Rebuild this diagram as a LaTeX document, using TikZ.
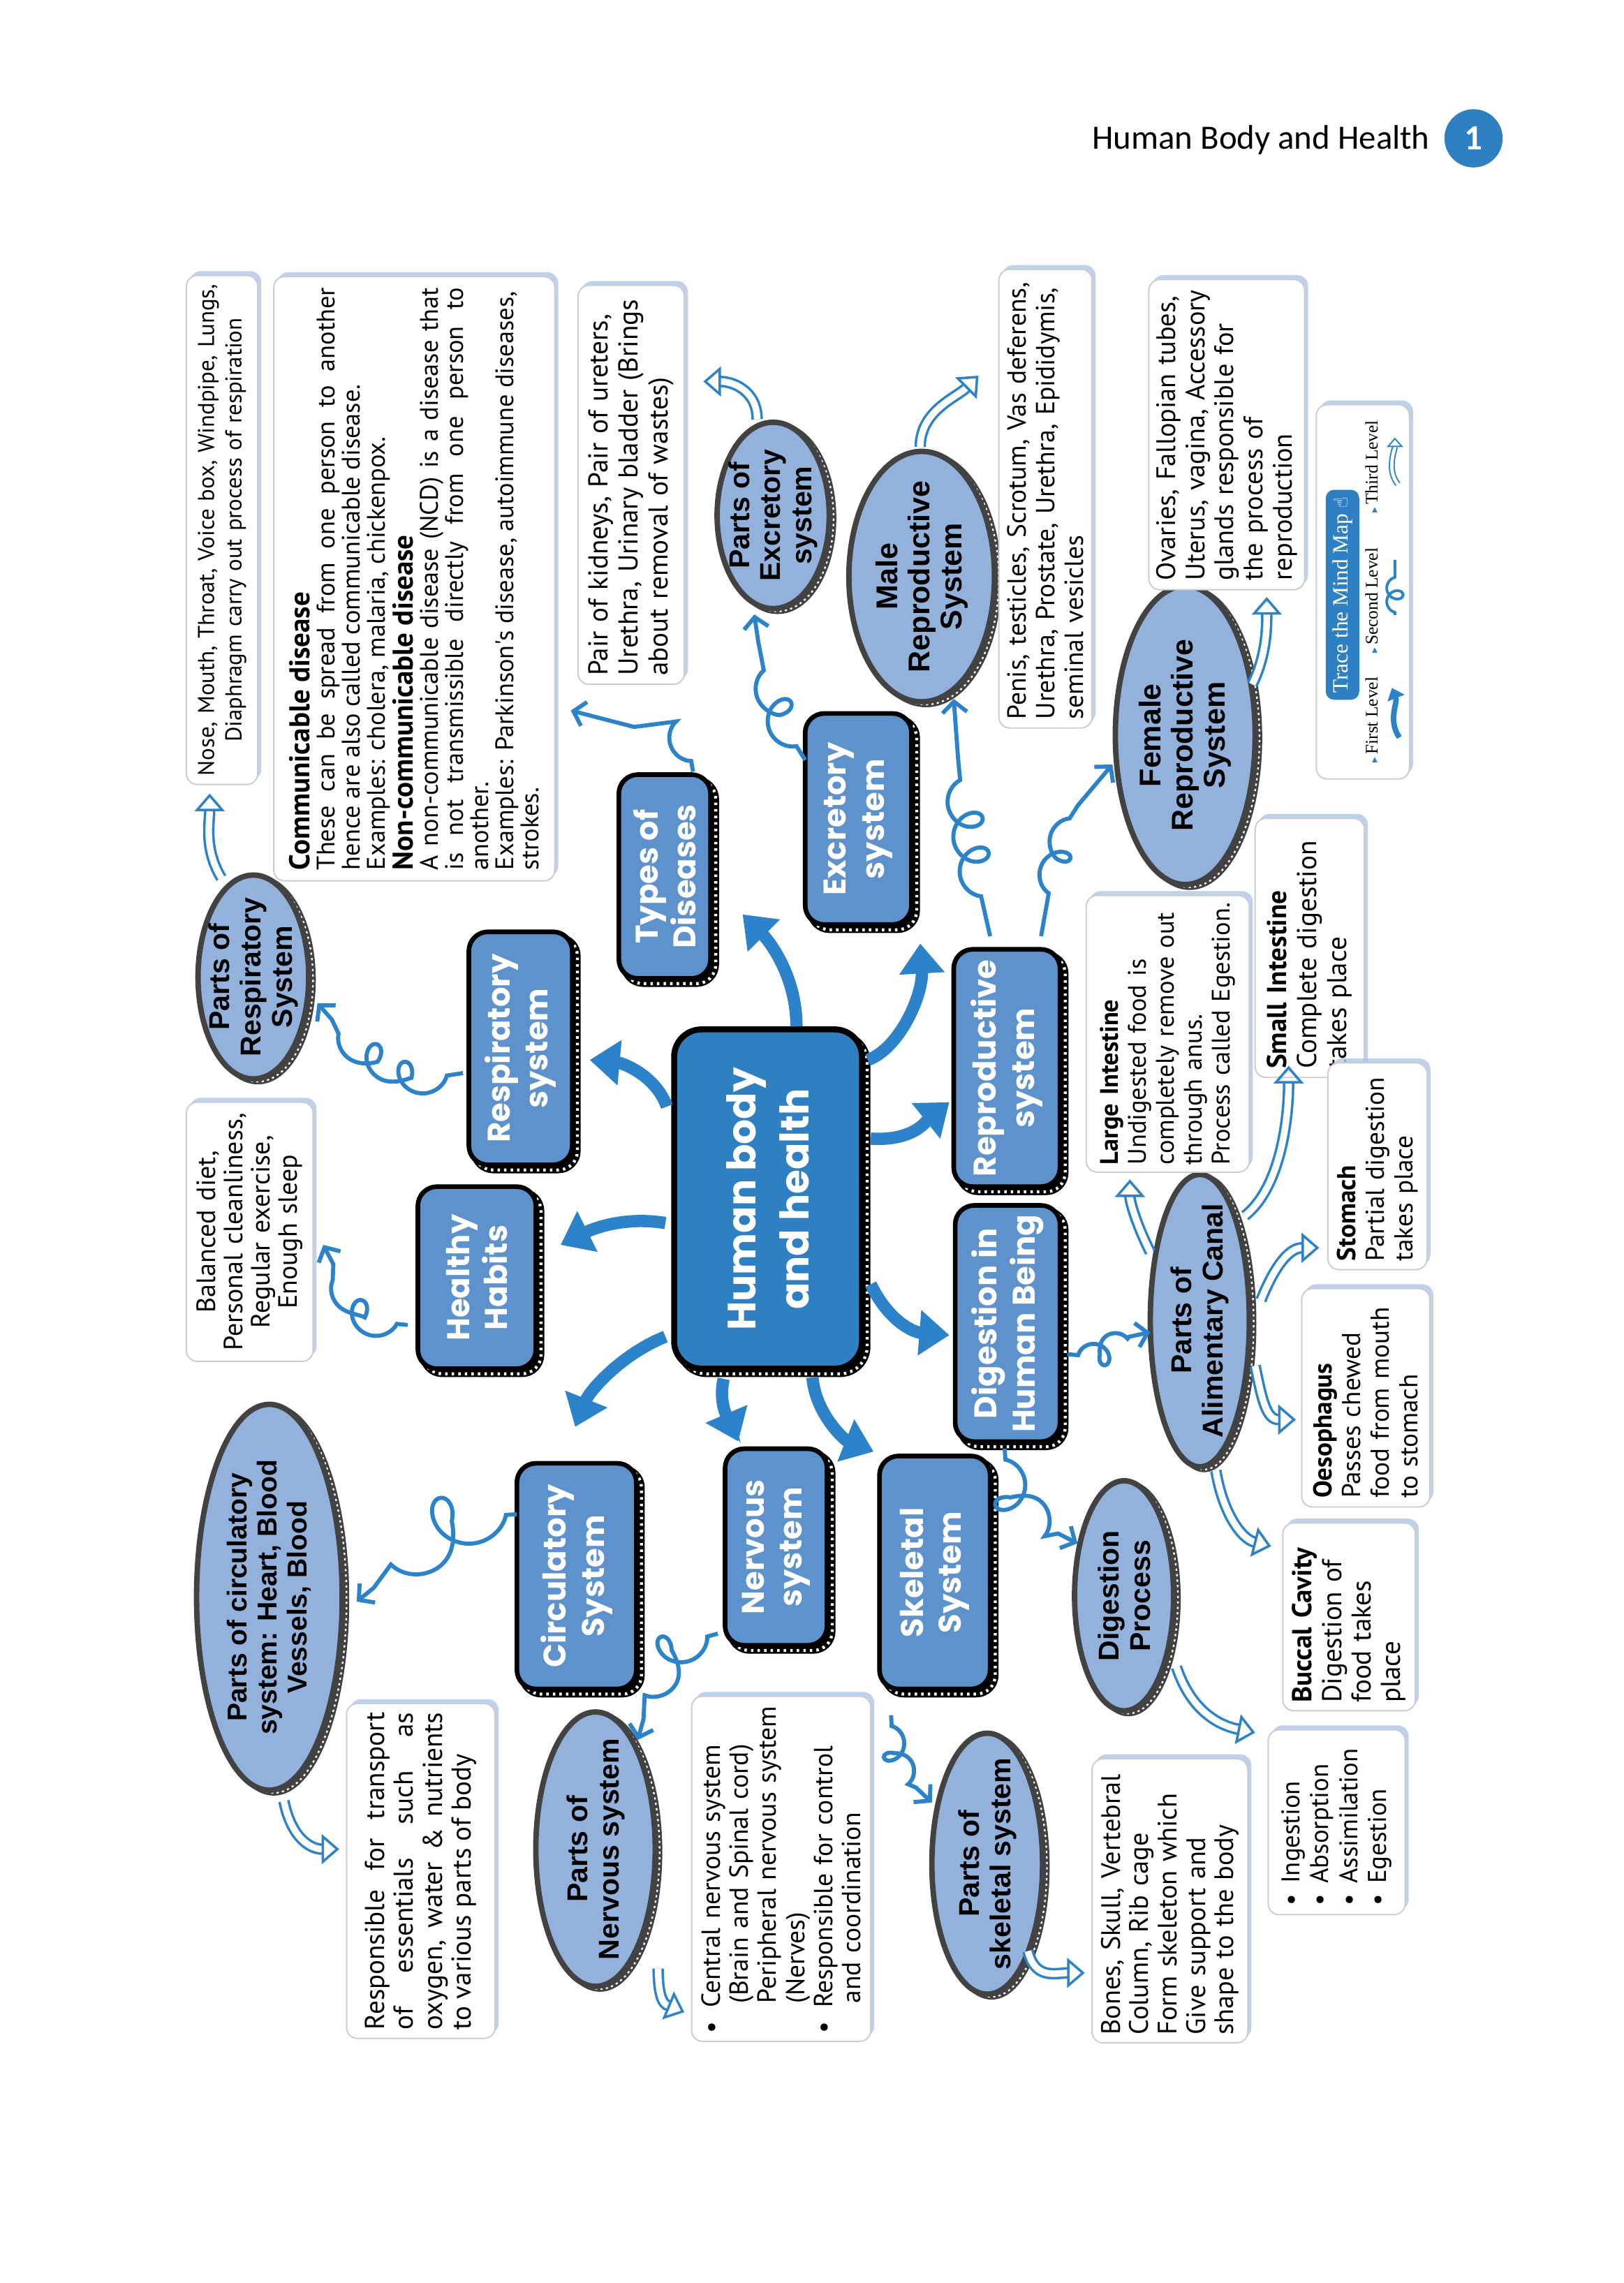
\documentclass[tikz,border=0pt]{standalone}
\usepackage{fontspec}
\setmainfont{PT Sans}
\newfontfamily\handf{PT Sans}
\newfontfamily\popf{Poppins}
\newfontfamily\arialf{Liberation Sans}
\newfontfamily\serff{Liberation Serif}
\newfontfamily\calf{Carlito}
\newfontfamily\djf{DejaVu Sans}
\usetikzlibrary{shapes.geometric,arrows.meta,decorations.pathmorphing,calc,shadows}
\definecolor{hubblue}{RGB}{46,128,194}
\definecolor{nodeblue}{RGB}{93,146,204}
\definecolor{ellblue}{RGB}{147,178,219}
\definecolor{ellgray}{RGB}{66,66,66}
\definecolor{arrowblue}{RGB}{44,131,201}
\definecolor{shadowblue}{RGB}{175,198,232}
\definecolor{boxgray}{RGB}{205,205,205}
\newcommand\fs[2]{\fontsize{#1}{#2}\selectfont}
\tikzset{
  sz/.style 2 args={minimum width=#1*0.5338pt, minimum height=#2*0.5338pt},
  tw/.style={text width=#1*0.5338pt},
  band/.style={
    general shadow={shadow xshift=1.9pt, shadow yshift=-1.9pt, draw=black, fill=black, line width=2.4pt},
    general shadow={shadow xshift=1.9pt, shadow yshift=-1.9pt, draw=white, line width=1.1pt, dash pattern=on 0.9pt off 1.5pt}},
  eband/.style={
    general shadow={shadow xshift=1.6pt, shadow yshift=-1.0pt, draw=ellgray, fill=ellgray, line width=2pt},
    general shadow={shadow xshift=1.6pt, shadow yshift=-1.0pt, draw=white, line width=0.6pt, dash pattern=on 0.8pt off 1.2pt}},
  hubnode/.style={rotate=90, rounded corners=10pt, fill=hubblue, draw=black, line width=2.2pt,
    text=white, font=\popf\bfseries\fs{14.5}{19.5}, align=center, band},
  sysnode/.style={rotate=90, rounded corners=7pt, fill=nodeblue, draw=black, line width=1.7pt,
    text=white, font=\popf\bfseries\fs{11.5}{14}, align=center, band},
  partnode/.style={ellipse, rotate=90, fill=ellblue, draw=ellgray, line width=2pt, inner sep=-5pt,
    font=\arialf\bfseries\fs{10.5}{11.5}, align=center, eband},
  tbox/.style={rotate=90, draw=boxgray, line width=0.5pt, fill=white, rounded corners=4pt,
    font=\handf\fs{9}{10.2}, inner sep=2.5pt,
    drop shadow={shadow xshift=1.3pt, shadow yshift=1.6pt, fill=shadowblue, opacity=0.8}},
  big/.style={draw=arrowblue, line width=4.5pt, -{Triangle[length=11pt,width=16pt]}},
  sq/.style={draw=arrowblue, line width=1.5pt, decorate,
    decoration={coil, aspect=0.9, segment length=13pt, amplitude=6pt, pre length=4pt, post length=8pt},
    -{Straight Barb[length=4pt,width=9pt]}},
  dbl/.style={draw=arrowblue, line width=0.9pt, double=white, double distance=2.4pt,
    -{Triangle[open, length=6.5pt, width=11pt]}},
}
\begin{document}
\begin{tikzpicture}[x=0.5338pt, y=-0.5338pt]
\useasboundingbox (0,0) rectangle (1115,1568);

% header
\node[font=\calf\fs{12.5}{14}] (title) at (866,96) {Human Body and Health};
\node[circle, fill=hubblue, minimum size=40*0.5338pt, inner sep=0pt, text=white,
  font=\calf\bfseries\fs{13}{14}] (pgnum) at (1012,95) {1};

% central and first level
\node[hubnode, sz={233}{129}] (hub) at (527.5,823.5) {Human body\\and health};
\node[sysnode, sz={160}{71}] (resp) at (357.5,720) {Respiratory\\system};
\node[sysnode, sz={140}{63}] (types) at (456.5,602) {Types of\\Diseases};
\node[sysnode, sz={145}{73}] (exc) at (589.5,562.5) {Excretory\\system};
\node[sysnode, sz={163}{73}] (rep) at (691.5,733.5) {Reproductive\\system};
\node[sysnode, sz={162}{72}] (dig) at (692,909) {Digestion in\\Human Being};
\node[sysnode, sz={125}{81}] (hab) at (327.5,877.5) {Healthy\\Habits};
\node[sysnode, sz={155}{82}] (circ) at (396,1082.5) {Circulatory\\System};
\node[sysnode, sz={135}{70}] (nerv) at (533,1062.5) {Nervous\\system};
\node[sysnode, sz={160}{76}] (skel) at (642,1080) {Skeletal\\System};

% second level ellipses
\node[partnode, sz={140}{76}] (presp) at (174,671) {Parts of\\Respiratory\\System};
\node[partnode, sz={128}{77}] (pexc) at (531,354) {Parts of\\Excretory\\system};
\node[partnode, sz={172}{100}, font=\arialf\bfseries\fs{11}{11.8}] (male) at (633,396) {Male\\Reproductive\\System};
\node[partnode, sz={205}{96}, font=\arialf\bfseries\fs{11}{11.8}] (fem) at (814,505) {Female\\Reproductive\\System};
\node[partnode, sz={191}{68}] (alim) at (824,907) {Parts of\\Alimentary Canal};
\node[partnode, sz={158}{68}] (dproc) at (772,1096) {Digestion\\Process};
\node[partnode, sz={265}{100}, font=\arialf\bfseries\fs{10}{11}] (pcirc) at (185,1097) {Parts of circulatory\\system: Heart, Blood\\Vessels, Blood};
\node[partnode, sz={184}{82}] (pnerv) at (409,1270) {Parts of\\Nervous system};
\node[partnode, sz={160}{76}] (pskel) at (678,1280) {Parts of\\skeletal system};

% text boxes
\node[tbox, sz={348}{49}, tw=344, align=center, font=\handf\fs{8.4}{10}, inner sep=1.5pt] (nose) at (152.5,364)
  {Nose, Mouth, Throat, Voice box, Windpipe, Lungs,\\Diaphragm carry out process of respiration};
\node[tbox, sz={415}{193}, tw=400, align=justify, font=\handf\fs{9.3}{9.2}, inner sep=1.5pt] (dis) at (284.5,397.5)
  {{\bfseries\fs{10.5}{9.2}Communicable disease}\par
   These can be spread from one person to another\linebreak
   hence are also called communicable disease.\par
   Examples: cholera, malaria, chickenpox.\par
   {\bfseries\fs{10.5}{9.2}Non-communicable disease}\par
   A non-communicable disease (NCD) is a disease that\linebreak
   is not transmissible directly from one person to\linebreak
   another.\par
   Examples: Parkinson's disease, autoimmune diseases,\par
   strokes.};
\node[tbox, sz={274}{73}, tw=262, align=left, font=\handf\fs{10}{11}] (excb) at (433.5,333)
  {Pair of kidneys, Pair of ureters,\\Urethra, Urinary bladder (Brings\\about removal of wastes)};
\node[tbox, sz={315}{64}, tw=303, align=left, font=\handf\fs{9.6}{10.4}] (maleb) at (718,342.5)
  {Penis, testicles, Scrotum, Vas deferens,\\Urethra, Prostate, Urethra, Epididymis,\\seminal vesicles};
\node[tbox, sz={213}{107}, tw=200, align=left, font=\handf\fs{9.8}{10.7}] (femb) at (842.5,298.5)
  {Ovaries, Fallopian tubes,\\Uterus, vagina, Accessory\\glands responsible for\\the process of\\reproduction};
\node[tbox, sz={178}{87}, tw=168, align=center, font=\handf\fs{9.7}{10}] (habb) at (171.5,846)
  {Balanced diet,\\Personal cleanliness,\\Regular exercise,\\Enough sleep};
\node[tbox, sz={190}{112}, tw=180, align=left, font=\handf\fs{9.3}{10.2}] (large) at (802,710)
  {\textbf{Large Intestine}\\Undigested food is\\completely remove out\\through anus.\\Process called Egestion.};
\node[tbox, sz={178}{75}, tw=166, align=left, font=\handf\fs{10}{11}] (small) at (899.5,651)
  {\textbf{Small Intestine}\\Complete digestion\\takes place};
\node[tbox, sz={142}{68}, tw=130, align=left, font=\handf\fs{9.5}{10.5}] (stom) at (946,801)
  {\textbf{Stomach}\\Partial digestion\\takes place};
\node[tbox, sz={150}{88}, tw=138, align=left, font=\handf\fs{9.5}{10.5}] (oes) at (938,960)
  {\textbf{Oesophagus}\\Passes chewed\\food from mouth\\to stomach};
\node[tbox, sz={129}{91}, tw=118, align=left, font=\handf\fs{10}{10.8}] (bucc) at (926.5,1110.5)
  {\textbf{Buccal Cavity}\\Digestion of\\food takes\\place};
\node[tbox, sz={127}{94}, tw=115, align=left, font=\handf\fs{9.4}{10.6}] (ing) at (918,1251.5)
  {•\hspace{4pt}Ingestion\\•\hspace{4pt}Absorption\\•\hspace{4pt}Assimilation\\•\hspace{4pt}Egestion};
\node[tbox, sz={195}{107}, tw=184, align=left, font=\handf\fs{9.8}{10.4}] (skelb) at (803.5,1305.5)
  {Bones, Skull, Vertebral\\Column, Rib cage\\Form skeleton which\\Give support and\\shape to the body};
\node[tbox, sz={237}{123}, tw=226, align=left, font=\handf\fs{9.6}{10.3}] (nervb) at (536.5,1283.5)
  {•\hspace{5pt}Central nervous system\\\hspace*{11pt}(Brain and Spinal cord)\\\hspace*{11pt}Peripheral nervous system\\\hspace*{11pt}(Nerves)\\•\hspace{5pt}Responsible for control\\\hspace*{11pt}and coordination};
\node[tbox, sz={230}{102}, tw=218, align=justify, font=\handf\fs{10}{10.6}] (circb) at (289,1285)
  {Responsible for transport\linebreak of essentials such as\linebreak oxygen, water \& nutrients\linebreak to various parts of body};

% legend
\node[tbox, sz={257}{64}] (leg) at (936,406.5) {};
\node[rotate=90, fill=hubblue, rounded corners=3pt, text=white, inner sep=2.5pt,
  font=\serff\fs{8}{9}] (pill) at ($(leg)+(-14,2)$) {Trace the Mind Map {\djf\fs{7}{8}☝}};
\node[rotate=90, font=\serff\fs{6.5}{7}, inner sep=0pt] (l1) at ($(leg)+(6,88)$) {{\djf\fs{4}{5}\color{hubblue}▸}\,First Level};
\node[rotate=90, font=\serff\fs{6.5}{7}, inner sep=0pt] (l2) at ($(leg)+(6,6)$) {{\djf\fs{4}{5}\color{hubblue}▸}\,Second Level};
\node[rotate=90, font=\serff\fs{6.5}{7}, inner sep=0pt] (l3) at ($(leg)+(6,-86)$) {{\djf\fs{4}{5}\color{hubblue}▸}\,Third Level};
\draw[draw=arrowblue, line width=2pt, -{Triangle[length=4pt,width=6.5pt]}] ($(leg)+(25,100)$) .. controls +(-8,-12) and +(4,10) .. ($(leg)+(20,66)$);
\draw[draw=arrowblue, line width=1pt, decorate, decoration={coil, aspect=0.9, segment length=5pt, amplitude=3pt, pre length=1pt, post length=2pt}] ($(leg)+(22,16)$) -- ($(leg)+(22,-22)$);
\draw[draw=arrowblue, line width=0.5pt, double=white, double distance=1.2pt, -{Triangle[open,length=3.5pt,width=6pt]}] ($(leg)+(24,-74)$) .. controls +(-8,-10) and +(0,8) .. ($(leg)+(22,-106)$);

% first-level arrows
\draw[big] ($(hub)+(-69.5,-63.5)$) .. controls +(-8,-22) and +(22,2) .. ($(resp)+(47.5,8)$);
\draw[big] ($(hub)+(19.5,-118.5)$) .. controls +(0,-35) and +(18,18) .. ($(types)+(53.5,26)$);
\draw[big] ($(hub)+(68.5,-95.5)$) .. controls +(22,-8) and +(2,35) .. ($(exc)+(42.5,85.5)$);
\draw[big] ($(hub)+(70.5,-41.5)$) .. controls +(30,2) and +(-15,12) .. ($(rep)+(-39.5,23.5)$);
\draw[big] ($(hub)+(70.5,58.5)$) .. controls +(12,25) and +(-25,-2) .. ($(dig)+(-40,8)$);
\draw[big] ($(hub)+(30.5,122.5)$) .. controls +(2,25) and +(-20,-8) .. ($(skel)+(-42,-83)$);
\draw[big] ($(hub)+(-30.5,123.5)$) .. controls +(-4,18) and +(-6,-14) .. ($(nerv)+(-26,-72.5)$);
\draw[big] ($(hub)+(-70.5,94.5)$) .. controls +(-30,12) and +(10,-25) .. ($(circ)+(-1,-102.5)$);
\draw[big] ($(hub)+(-70.5,16.5)$) .. controls +(-30,-5) and +(20,-10) .. ($(hab)+(57.5,-22.5)$);

% second-level squiggles
\draw[sq, decoration={segment length=13pt, pre length=6pt}] ($(resp)+(-39.5,17)$) .. controls +(-40,10) and +(20,25) .. ($(presp)+(44,18)$);
\draw[sq, decoration={segment length=13pt, amplitude=5pt, pre length=4pt, post length=24pt}] ($(types)+(19.5,-72)$) .. controls +(0,-30) and +(25,10) .. ($(dis)+(107.5,90.5)$);
\draw[sq, decoration={segment length=13pt, pre length=6pt, post length=10pt}] ($(exc)+(-36.5,-40.5)$) .. controls +(-15,-20) and +(0,20) .. ($(pexc)+(-13,68)$);
\draw[sq, decoration={segment length=13pt, pre length=15pt, post length=22pt}] ($(rep)+(-11.5,-90.5)$) .. controls +(-10,-40) and +(0,40) .. ($(male)+(22,84)$);
\draw[sq, decoration={segment length=13pt, amplitude=5pt, pre length=16pt, post length=20pt}] ($(rep)+(23.5,-90.5)$) .. controls +(5,-40) and +(-25,10) .. ($(fem)+(-50,20)$);
\draw[sq, decoration={segment length=8pt, amplitude=4pt}] ($(dig)+(41,21)$) .. controls +(20,5) and +(-20,0) .. ($(alim)+(-34,8)$);
\draw[sq, decoration={segment length=14pt}] ($(dig)+(-2,86)$) .. controls +(0,30) and +(-25,-10) .. ($(dproc)+(-32,-36)$);
\draw[sq, decoration={segment length=12pt}] ($(hab)+(-47.5,32.5)$) .. controls +(-30,0) and +(10,20) .. ($(habb)+(50.5,9)$);
\draw[sq, decoration={segment length=20pt, amplitude=9pt}] ($(circ)+(-41,-42.5)$) .. controls +(-40,0) and +(25,-20) .. ($(pcirc)+(60,3)$);
\draw[sq, decoration={segment length=14pt, amplitude=6pt}] ($(nerv)+(-40,59.5)$) .. controls +(-30,5) and +(5,-25) .. ($(pnerv)+(29,-75)$);
\draw[sq, decoration={segment length=10pt, amplitude=4pt}] ($(skel)+(-30,98)$) .. controls +(0,25) and +(-15,-10) .. ($(pskel)+(-38,-42)$);

% third-level double arrows
\draw[dbl] ($(presp)+(-22,-68)$) .. controls +(-12,-20) and +(0,20) .. ($(nose)+(-8.5,181)$);
\draw[dbl] ($(pexc)+(-11,-66)$) .. controls +(0,-20) and +(20,0) .. ($(excb)+(49.5,-71)$);
\draw[dbl] ($(male)+(-1,-89)$) .. controls +(0,-25) and +(-15,15) .. ($(maleb)+(-46,-84.5)$);
\draw[dbl] ($(fem)+(46,-35)$) .. controls +(10,-20) and +(0,20) .. ($(femb)+(27.5,111.5)$);
\draw[dbl] ($(alim)+(-34,-47)$) .. controls +(-10,-20) and +(0,15) .. ($(large)+(-26,100)$);
\draw[dbl] ($(alim)+(31,-72)$) .. controls +(25,-20) and +(0,35) .. ($(small)+(-14.5,81)$);
\draw[dbl] ($(alim)+(42,-14)$) .. controls +(10,-25) and +(-20,0) .. ($(stom)+(-40,56)$);
\draw[dbl] ($(alim)+(38,31)$) .. controls +(5,25) and +(-20,0) .. ($(oes)+(-48,15)$);
\draw[dbl] ($(alim)+(11,103)$) .. controls +(5,30) and +(-20,-5) .. ($(bucc)+(-53.5,-48.5)$);
\draw[dbl] ($(dproc)+(36,49)$) .. controls +(10,30) and +(-25,-5) .. ($(ing)+(-56,-61.5)$);
\draw[dbl] ($(pcirc)+(10,140)$) .. controls +(5,25) and +(-20,0) .. ($(circb)+(-56,-15)$);
\draw[dbl] ($(pnerv)+(43,82)$) .. controls +(0,25) and +(-12,-5) .. ($(nervb)+(-66.5,98.5)$);
\draw[dbl] ($(pskel)+(28,60)$) .. controls +(5,20) and +(-20,0) .. ($(skelb)+(-58.5,49.5)$);
\end{tikzpicture}
\end{document}
